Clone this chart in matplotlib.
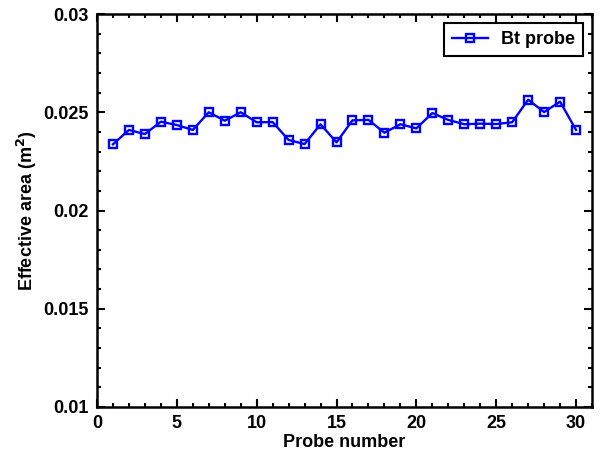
import matplotlib
matplotlib.use("Agg")
import matplotlib.pyplot as plt
from matplotlib.ticker import MultipleLocator

probe = list(range(1, 31))
area = [0.02337, 0.02410, 0.02389, 0.02452, 0.02435, 0.02410, 0.02500, 0.02457,
        0.02500, 0.02449, 0.02450, 0.02359, 0.02338, 0.02439, 0.02347, 0.02459,
        0.02461, 0.02396, 0.02439, 0.02418, 0.02496, 0.02461, 0.02439, 0.02442,
        0.02440, 0.02449, 0.02564, 0.02501, 0.02554, 0.02410]
series_label = "Bt probe"

plt.rcParams['font.family'] = ['Liberation Sans', 'DejaVu Sans']
plt.rcParams['font.weight'] = 'bold'
plt.rcParams['mathtext.default'] = 'bf'

fig = plt.figure(figsize=(6.05, 4.55), dpi=100)
ax = fig.add_axes([0.1603, 0.1055, 0.8182, 0.8637])

ax.plot(probe, area, color='#0000ff', lw=1.7, marker='s', ms=5.5,
        mfc='none', mec='#0000ff', mew=1.7, label=series_label)

ax.set_xlim(0, 31)
ax.set_ylim(0.01, 0.03)
ax.xaxis.set_major_locator(MultipleLocator(5))
ax.xaxis.set_minor_locator(MultipleLocator(1))
ax.yaxis.set_minor_locator(MultipleLocator(0.001))
ax.set_yticks([0.01, 0.015, 0.02, 0.025, 0.03])
ax.set_yticklabels(['0.01', '0.015', '0.02', '0.025', '0.03'])

ax.tick_params(which='both', direction='in', top=True, right=True, width=1.5,
               labelsize=13)
ax.tick_params(which='major', length=6)
ax.tick_params(which='minor', length=3)
ax.tick_params(axis='x', which='major', pad=6)
ax.tick_params(axis='y', which='major', pad=6)
for lab in ax.get_xticklabels() + ax.get_yticklabels():
    lab.set_fontweight('bold')
for s in ax.spines.values():
    s.set_linewidth(1.8)

ax.set_xlabel('Probe number', fontsize=13, fontweight='bold', labelpad=1)
ax.set_ylabel('Effective area (m$^2$)', fontsize=13, fontweight='bold', labelpad=3)

leg = ax.legend(loc='upper right', frameon=True, fancybox=False,
                edgecolor='black', borderaxespad=0.5, handlelength=2.0,
                handletextpad=0.7, borderpad=0.45,
                prop={'weight': 'bold', 'size': 13})
leg.get_frame().set_linewidth(1.5)
leg.get_frame().set_alpha(1)

fig.savefig('out.png', dpi=100)
